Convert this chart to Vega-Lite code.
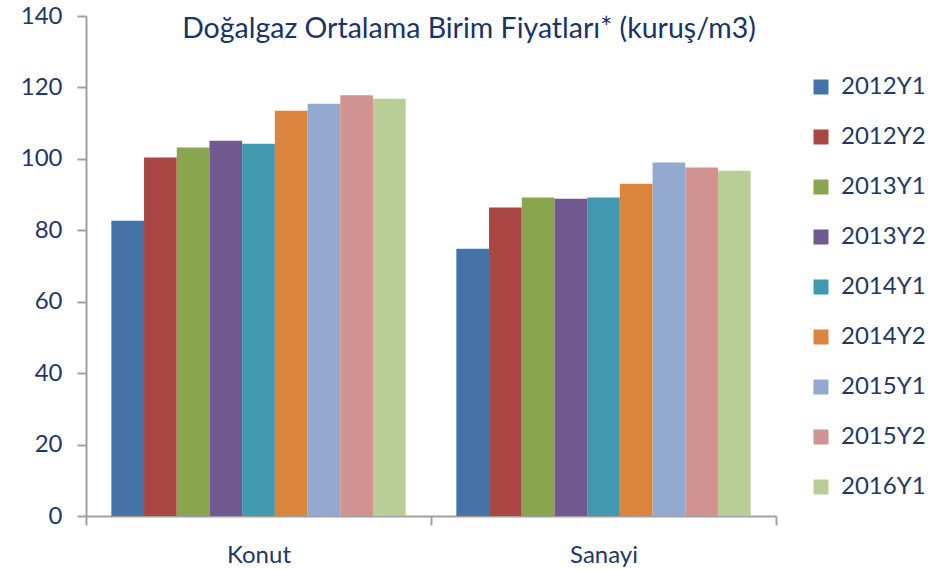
{
  "$schema": "https://vega.github.io/schema/vega-lite/v6.json",
  "width": 690,
  "height": 500,
  "autosize": {"type": "none"},
  "padding": {"left": 86, "top": 16, "right": 152, "bottom": 53},
  "background": "white",
  "title": {
    "text": "Doğalgaz Ortalama Birim Fiyatları* (kuruş/m3)",
    "font": "Lato",
    "fontSize": 28.5,
    "fontWeight": "normal",
    "color": "#1A3366",
    "anchor": "middle",
    "frame": "group",
    "baseline": "alphabetic",
    "offset": -62,
    "dx": 38
  },
  "data": {
    "values": [
      {"group": "Konut", "period": "2012Y1", "value": 82.7},
      {"group": "Konut", "period": "2012Y2", "value": 100.4},
      {"group": "Konut", "period": "2013Y1", "value": 103.2},
      {"group": "Konut", "period": "2013Y2", "value": 105.1},
      {"group": "Konut", "period": "2014Y1", "value": 104.2},
      {"group": "Konut", "period": "2014Y2", "value": 113.5},
      {"group": "Konut", "period": "2015Y1", "value": 115.4},
      {"group": "Konut", "period": "2015Y2", "value": 117.8},
      {"group": "Konut", "period": "2016Y1", "value": 116.8},
      {"group": "Sanayi", "period": "2012Y1", "value": 74.8},
      {"group": "Sanayi", "period": "2012Y2", "value": 86.4},
      {"group": "Sanayi", "period": "2013Y1", "value": 89.2},
      {"group": "Sanayi", "period": "2013Y2", "value": 88.8},
      {"group": "Sanayi", "period": "2014Y1", "value": 89.2},
      {"group": "Sanayi", "period": "2014Y2", "value": 93.0},
      {"group": "Sanayi", "period": "2015Y1", "value": 99.0},
      {"group": "Sanayi", "period": "2015Y2", "value": 97.6},
      {"group": "Sanayi", "period": "2016Y1", "value": 96.7}
    ]
  },
  "mark": {"type": "bar"},
  "encoding": {
    "x": {
      "field": "group",
      "type": "nominal",
      "scale": {"paddingInner": 0, "paddingOuter": 0},
      "axis": {
        "title": null,
        "labelAngle": 0,
        "tickBand": "extent",
        "tickSize": 9,
        "labelPadding": 18,
        "labelFont": "Lato",
        "labelFontSize": 24,
        "labelColor": "#1F3864",
        "domainColor": "#A0A0A0",
        "domainWidth": 2,
        "tickColor": "#A0A0A0",
        "tickWidth": 2
      }
    },
    "xOffset": {
      "field": "period",
      "type": "nominal",
      "scale": {"paddingInner": 0, "paddingOuter": 0.775}
    },
    "y": {
      "field": "value",
      "type": "quantitative",
      "scale": {"domain": [0, 140], "nice": false},
      "axis": {
        "title": null,
        "values": [0, 20, 40, 60, 80, 100, 120, 140],
        "grid": false,
        "tickSize": 9,
        "labelPadding": 15,
        "labelFont": "Lato",
        "labelFontSize": 24,
        "labelColor": "#1F3864",
        "domainColor": "#A0A0A0",
        "domainWidth": 2,
        "tickColor": "#A0A0A0",
        "tickWidth": 2
      }
    },
    "color": {
      "field": "period",
      "type": "nominal",
      "scale": {
        "domain": ["2012Y1", "2012Y2", "2013Y1", "2013Y2", "2014Y1", "2014Y2", "2015Y1", "2015Y2", "2016Y1"],
        "range": ["#4572A7", "#AA4643", "#89A54E", "#71588F", "#4198AF", "#DB843D", "#93A9CF", "#D19392", "#B9CD96"]
      },
      "legend": {
        "title": null,
        "orient": "none",
        "legendX": 723,
        "legendY": 59,
        "padding": 0,
        "symbolType": "square",
        "symbolSize": 225,
        "symbolStrokeWidth": 0,
        "symbolOpacity": 1,
        "labelFont": "Lato",
        "labelFontSize": 24,
        "labelColor": "#1F3864",
        "labelOffset": 8,
        "rowPadding": 26,
        "labelLimit": 200
      }
    }
  },
  "config": {
    "view": {"stroke": null}
  }
}
